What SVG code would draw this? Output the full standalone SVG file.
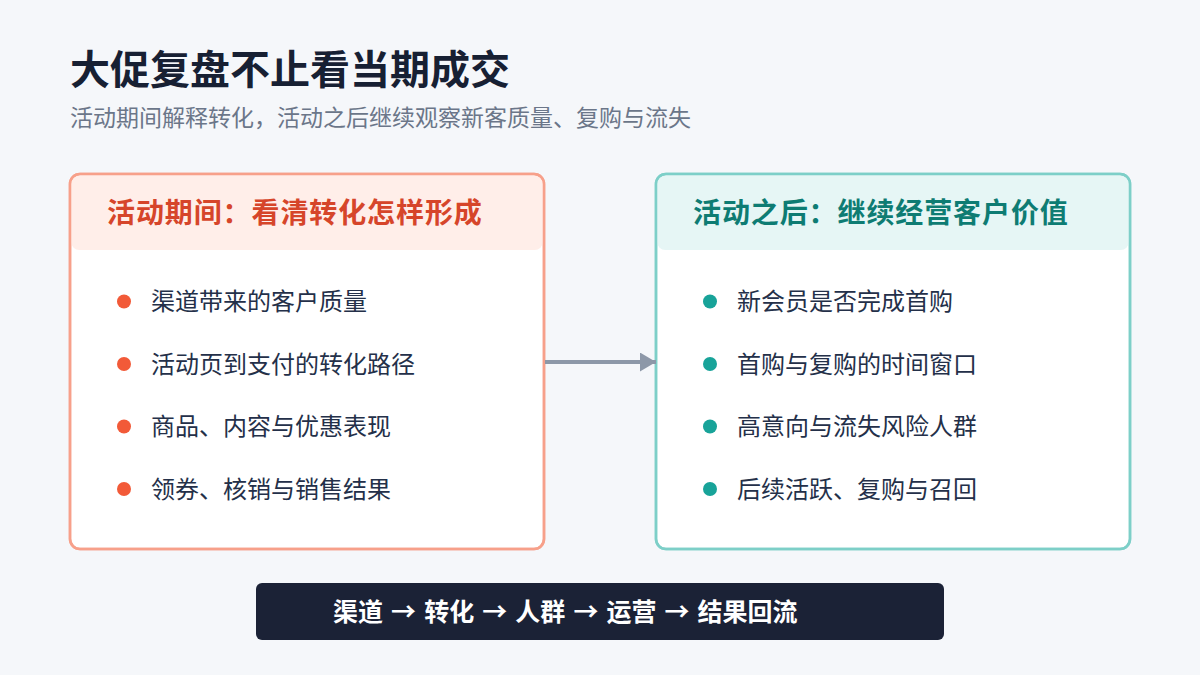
<svg xmlns="http://www.w3.org/2000/svg" width="1200" height="675" viewBox="0 0 1200 675">
<defs>
<style>
text{font-family:"Noto Sans CJK SC","Noto Sans",sans-serif;}
.title{font-size:40px;font-weight:700;fill:#172033;}
.sub{font-size:23px;fill:#6B7689;}
.head{font-size:28px;font-weight:700;letter-spacing:0.9px;}
.item{font-size:24px;fill:#243049;}
.card{fill:#FFFFFF;stroke-width:2.5;}
.bar-text{font-size:25px;font-weight:700;fill:#FFFFFF;}
</style>
<marker id="arrow" markerWidth="16" markerHeight="19" refX="16" refY="9.5" orient="auto" markerUnits="userSpaceOnUse">
<polygon points="0,0 16,9.5 0,19" fill="#8D98A8"/>
</marker>
</defs>
<rect x="0" y="0" width="1200" height="675" fill="#F5F7FA"/>
<g id="title">
<text class="title" x="70" y="84">大促复盘不止看当期成交</text>
<text class="sub" x="70" y="126">活动期间解释转化，活动之后继续观察新客质量、复购与流失</text>
</g>
<g id="card-during">
<rect class="card" x="70" y="174" width="474" height="375" rx="10" stroke="#F7A08A"/>
<path d="M71.25,184 a8.75,8.75 0 0 1 8.75,-8.75 h454 a8.75,8.75 0 0 1 8.75,8.75 v58 a8,8 0 0 1 -8,8 h-455.5 a8,8 0 0 1 -8,-8 z" fill="#FFEEE9"/>
<rect x="70" y="174" width="474" height="375" rx="10" fill="none" stroke="#F7A08A" stroke-width="2.5"/>
<text class="head" x="107" y="223" fill="#D6452A">活动期间：看清转化怎样形成</text>
<circle cx="124" cy="301.5" r="7" fill="#F25A38"/>
<text class="item" x="151" y="310">渠道带来的客户质量</text>
<circle cx="124" cy="364" r="7" fill="#F25A38"/>
<text class="item" x="151" y="372.5">活动页到支付的转化路径</text>
<circle cx="124" cy="426.5" r="7" fill="#F25A38"/>
<text class="item" x="151" y="435">商品、内容与优惠表现</text>
<circle cx="124" cy="489" r="7" fill="#F25A38"/>
<text class="item" x="151" y="497.5">领券、核销与销售结果</text>
</g>
<g id="card-after">
<rect class="card" x="656" y="174" width="474" height="375" rx="10" stroke="#7DCFC8"/>
<path d="M657.25,184 a8.75,8.75 0 0 1 8.75,-8.75 h454 a8.75,8.75 0 0 1 8.75,8.75 v58 a8,8 0 0 1 -8,8 h-455.5 a8,8 0 0 1 -8,-8 z" fill="#E6F6F5"/>
<rect x="656" y="174" width="474" height="375" rx="10" fill="none" stroke="#7DCFC8" stroke-width="2.5"/>
<text class="head" x="693" y="223" fill="#0E7C73">活动之后：继续经营客户价值</text>
<circle cx="710" cy="301.5" r="7" fill="#18A399"/>
<text class="item" x="737" y="310">新会员是否完成首购</text>
<circle cx="710" cy="364" r="7" fill="#18A399"/>
<text class="item" x="737" y="372.5">首购与复购的时间窗口</text>
<circle cx="710" cy="426.5" r="7" fill="#18A399"/>
<text class="item" x="737" y="435">高意向与流失风险人群</text>
<circle cx="710" cy="489" r="7" fill="#18A399"/>
<text class="item" x="737" y="497.5">后续活跃、复购与召回</text>
</g>
<g id="connectors">
<line x1="545" y1="362" x2="656" y2="362" stroke="#8D98A8" stroke-width="4" marker-end="url(#arrow)"/>
</g>
<g id="flow-bar">
<rect x="256" y="583" width="688" height="57" rx="6" fill="#1B2236"/>
<text class="bar-text" x="333" y="620.5" word-spacing="2.4">渠道 → 转化 → 人群 → 运营 → 结果回流</text>
</g>
</svg>
